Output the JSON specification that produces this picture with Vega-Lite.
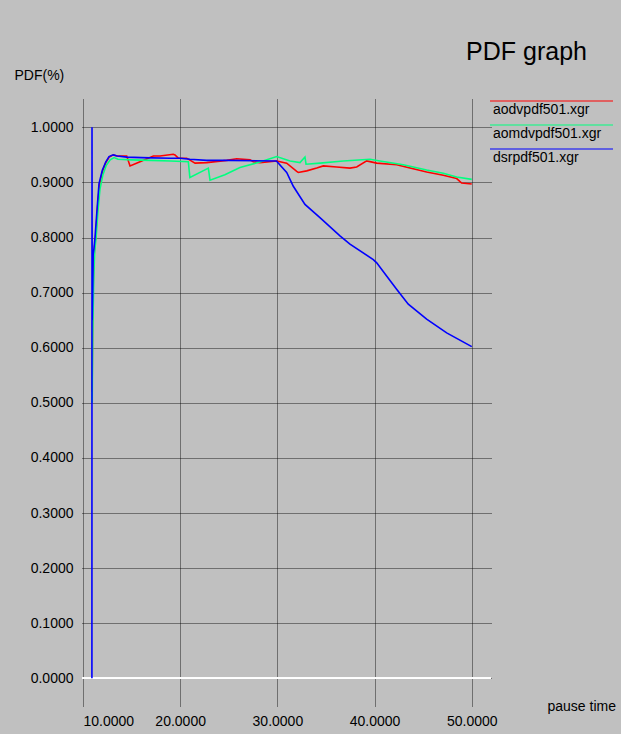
{
  "$schema": "https://vega.github.io/schema/vega-lite/v6.json",
  "width": 409,
  "height": 608,
  "autosize": {"type": "none"},
  "padding": {"left": 82, "top": 99, "right": 130, "bottom": 27},
  "background": "#c0c0c0",
  "title": {
    "text": "PDF graph",
    "anchor": "end",
    "frame": "group",
    "font": "Liberation Sans",
    "fontSize": 25,
    "fontWeight": "normal",
    "color": "#000000",
    "baseline": "alphabetic",
    "offset": 0,
    "dx": 96,
    "dy": 17
  },
  "config": {
    "view": {"stroke": null},
    "font": "Liberation Sans",
    "axis": {
      "labelFont": "Liberation Sans",
      "labelFontSize": 14,
      "labelColor": "#000000",
      "titleFont": "Liberation Sans",
      "titleFontSize": 14,
      "titleFontWeight": "normal",
      "titleColor": "#000000",
      "domain": false,
      "ticks": false,
      "grid": true,
      "gridColor": "#000000",
      "gridOpacity": 0.85,
      "gridDash": [1, 1],
      "gridWidth": 1
    },
    "legend": {
      "labelFont": "Liberation Sans",
      "labelFontSize": 14,
      "labelColor": "#000000"
    }
  },
  "data": {
    "values": [
      {"s": "aodvpdf501.xgr", "x": 10.94, "y": 0.52},
      {"s": "aodvpdf501.xgr", "x": 10.99, "y": 0.64},
      {"s": "aodvpdf501.xgr", "x": 11.08, "y": 0.74},
      {"s": "aodvpdf501.xgr", "x": 11.2, "y": 0.785},
      {"s": "aodvpdf501.xgr", "x": 11.3, "y": 0.8},
      {"s": "aodvpdf501.xgr", "x": 11.5, "y": 0.855},
      {"s": "aodvpdf501.xgr", "x": 11.7, "y": 0.895},
      {"s": "aodvpdf501.xgr", "x": 12.0, "y": 0.92},
      {"s": "aodvpdf501.xgr", "x": 12.35, "y": 0.936},
      {"s": "aodvpdf501.xgr", "x": 12.7, "y": 0.946},
      {"s": "aodvpdf501.xgr", "x": 13.12, "y": 0.95},
      {"s": "aodvpdf501.xgr", "x": 13.5, "y": 0.948},
      {"s": "aodvpdf501.xgr", "x": 14.5, "y": 0.948},
      {"s": "aodvpdf501.xgr", "x": 14.84, "y": 0.93},
      {"s": "aodvpdf501.xgr", "x": 15.87, "y": 0.9375},
      {"s": "aodvpdf501.xgr", "x": 17.24, "y": 0.948},
      {"s": "aodvpdf501.xgr", "x": 17.92, "y": 0.948},
      {"s": "aodvpdf501.xgr", "x": 19.29, "y": 0.951},
      {"s": "aodvpdf501.xgr", "x": 19.47, "y": 0.95},
      {"s": "aodvpdf501.xgr", "x": 19.81, "y": 0.944},
      {"s": "aodvpdf501.xgr", "x": 20.67, "y": 0.944},
      {"s": "aodvpdf501.xgr", "x": 21.53, "y": 0.935},
      {"s": "aodvpdf501.xgr", "x": 22.73, "y": 0.936},
      {"s": "aodvpdf501.xgr", "x": 24.79, "y": 0.94},
      {"s": "aodvpdf501.xgr", "x": 25.82, "y": 0.943},
      {"s": "aodvpdf501.xgr", "x": 27.19, "y": 0.941},
      {"s": "aodvpdf501.xgr", "x": 27.52, "y": 0.9375},
      {"s": "aodvpdf501.xgr", "x": 28.21, "y": 0.936},
      {"s": "aodvpdf501.xgr", "x": 29.93, "y": 0.939},
      {"s": "aodvpdf501.xgr", "x": 30.96, "y": 0.935},
      {"s": "aodvpdf501.xgr", "x": 31.99, "y": 0.92},
      {"s": "aodvpdf501.xgr", "x": 32.15, "y": 0.918},
      {"s": "aodvpdf501.xgr", "x": 33.02, "y": 0.921},
      {"s": "aodvpdf501.xgr", "x": 34.05, "y": 0.926},
      {"s": "aodvpdf501.xgr", "x": 34.73, "y": 0.93},
      {"s": "aodvpdf501.xgr", "x": 36.1, "y": 0.928},
      {"s": "aodvpdf501.xgr", "x": 37.47, "y": 0.926},
      {"s": "aodvpdf501.xgr", "x": 38.16, "y": 0.928},
      {"s": "aodvpdf501.xgr", "x": 39.19, "y": 0.939},
      {"s": "aodvpdf501.xgr", "x": 40.22, "y": 0.935},
      {"s": "aodvpdf501.xgr", "x": 42.28, "y": 0.932},
      {"s": "aodvpdf501.xgr", "x": 43.65, "y": 0.926},
      {"s": "aodvpdf501.xgr", "x": 45.36, "y": 0.919},
      {"s": "aodvpdf501.xgr", "x": 47.07, "y": 0.913},
      {"s": "aodvpdf501.xgr", "x": 48.45, "y": 0.907},
      {"s": "aodvpdf501.xgr", "x": 48.96, "y": 0.899},
      {"s": "aodvpdf501.xgr", "x": 50.0, "y": 0.897},

      {"s": "aomdvpdf501.xgr", "x": 10.95, "y": 0.5},
      {"s": "aomdvpdf501.xgr", "x": 11.0, "y": 0.62},
      {"s": "aomdvpdf501.xgr", "x": 11.1, "y": 0.72},
      {"s": "aomdvpdf501.xgr", "x": 11.2, "y": 0.775},
      {"s": "aomdvpdf501.xgr", "x": 11.35, "y": 0.8},
      {"s": "aomdvpdf501.xgr", "x": 11.55, "y": 0.85},
      {"s": "aomdvpdf501.xgr", "x": 11.75, "y": 0.888},
      {"s": "aomdvpdf501.xgr", "x": 12.05, "y": 0.914},
      {"s": "aomdvpdf501.xgr", "x": 12.4, "y": 0.931},
      {"s": "aomdvpdf501.xgr", "x": 12.8, "y": 0.941},
      {"s": "aomdvpdf501.xgr", "x": 13.2, "y": 0.945},
      {"s": "aomdvpdf501.xgr", "x": 13.6, "y": 0.942},
      {"s": "aomdvpdf501.xgr", "x": 15.0, "y": 0.941},
      {"s": "aomdvpdf501.xgr", "x": 17.0, "y": 0.94},
      {"s": "aomdvpdf501.xgr", "x": 19.0, "y": 0.939},
      {"s": "aomdvpdf501.xgr", "x": 20.84, "y": 0.9375},
      {"s": "aomdvpdf501.xgr", "x": 21.0, "y": 0.909},
      {"s": "aomdvpdf501.xgr", "x": 22.9, "y": 0.926},
      {"s": "aomdvpdf501.xgr", "x": 23.07, "y": 0.904},
      {"s": "aomdvpdf501.xgr", "x": 24.6, "y": 0.914},
      {"s": "aomdvpdf501.xgr", "x": 26.15, "y": 0.927},
      {"s": "aomdvpdf501.xgr", "x": 28.2, "y": 0.937},
      {"s": "aomdvpdf501.xgr", "x": 29.93, "y": 0.947},
      {"s": "aomdvpdf501.xgr", "x": 31.3, "y": 0.939},
      {"s": "aomdvpdf501.xgr", "x": 32.33, "y": 0.936},
      {"s": "aomdvpdf501.xgr", "x": 32.84, "y": 0.946},
      {"s": "aomdvpdf501.xgr", "x": 32.95, "y": 0.933},
      {"s": "aomdvpdf501.xgr", "x": 34.39, "y": 0.935},
      {"s": "aomdvpdf501.xgr", "x": 36.78, "y": 0.939},
      {"s": "aomdvpdf501.xgr", "x": 39.53, "y": 0.942},
      {"s": "aomdvpdf501.xgr", "x": 40.56, "y": 0.939},
      {"s": "aomdvpdf501.xgr", "x": 42.96, "y": 0.932},
      {"s": "aomdvpdf501.xgr", "x": 45.36, "y": 0.9225},
      {"s": "aomdvpdf501.xgr", "x": 47.07, "y": 0.9165},
      {"s": "aomdvpdf501.xgr", "x": 48.45, "y": 0.91},
      {"s": "aomdvpdf501.xgr", "x": 50.0, "y": 0.9056},

      {"s": "dsrpdf501.xgr", "x": 10.92, "y": 0.0},
      {"s": "dsrpdf501.xgr", "x": 10.93, "y": 1.0},
      {"s": "dsrpdf501.xgr", "x": 10.95, "y": 0.65},
      {"s": "dsrpdf501.xgr", "x": 11.0, "y": 0.7},
      {"s": "dsrpdf501.xgr", "x": 11.05, "y": 0.77},
      {"s": "dsrpdf501.xgr", "x": 11.13, "y": 0.78},
      {"s": "dsrpdf501.xgr", "x": 11.24, "y": 0.8},
      {"s": "dsrpdf501.xgr", "x": 11.47, "y": 0.856},
      {"s": "dsrpdf501.xgr", "x": 11.65, "y": 0.898},
      {"s": "dsrpdf501.xgr", "x": 11.99, "y": 0.922},
      {"s": "dsrpdf501.xgr", "x": 12.34, "y": 0.937},
      {"s": "dsrpdf501.xgr", "x": 12.68, "y": 0.947},
      {"s": "dsrpdf501.xgr", "x": 13.12, "y": 0.95},
      {"s": "dsrpdf501.xgr", "x": 13.53, "y": 0.948},
      {"s": "dsrpdf501.xgr", "x": 14.5, "y": 0.946},
      {"s": "dsrpdf501.xgr", "x": 16.0, "y": 0.945},
      {"s": "dsrpdf501.xgr", "x": 19.0, "y": 0.944},
      {"s": "dsrpdf501.xgr", "x": 20.0, "y": 0.944},
      {"s": "dsrpdf501.xgr", "x": 21.0, "y": 0.942},
      {"s": "dsrpdf501.xgr", "x": 22.7, "y": 0.94},
      {"s": "dsrpdf501.xgr", "x": 25.0, "y": 0.94},
      {"s": "dsrpdf501.xgr", "x": 29.9, "y": 0.939},
      {"s": "dsrpdf501.xgr", "x": 30.96, "y": 0.918},
      {"s": "dsrpdf501.xgr", "x": 31.64, "y": 0.893},
      {"s": "dsrpdf501.xgr", "x": 32.84, "y": 0.86},
      {"s": "dsrpdf501.xgr", "x": 34.38, "y": 0.836},
      {"s": "dsrpdf501.xgr", "x": 36.44, "y": 0.803},
      {"s": "dsrpdf501.xgr", "x": 37.47, "y": 0.788},
      {"s": "dsrpdf501.xgr", "x": 39.87, "y": 0.76},
      {"s": "dsrpdf501.xgr", "x": 40.22, "y": 0.754},
      {"s": "dsrpdf501.xgr", "x": 41.24, "y": 0.73},
      {"s": "dsrpdf501.xgr", "x": 42.27, "y": 0.706},
      {"s": "dsrpdf501.xgr", "x": 43.47, "y": 0.679},
      {"s": "dsrpdf501.xgr", "x": 45.36, "y": 0.652},
      {"s": "dsrpdf501.xgr", "x": 47.42, "y": 0.627},
      {"s": "dsrpdf501.xgr", "x": 50.0, "y": 0.602}
    ]
  },
  "layer": [
    {
      "mark": {"type": "rule", "color": "#ffffff", "strokeWidth": 1.2},
      "encoding": {"y": {"datum": 0, "type": "quantitative"}}
    },
    {
      "mark": {"type": "line", "strokeWidth": 1.6, "interpolate": "linear"},
      "encoding": {
        "x": {
          "field": "x",
          "type": "quantitative",
          "scale": {"domain": [9.9, 51.98], "nice": false, "zero": false},
          "axis": {
            "values": [10, 20, 30, 40, 50],
            "format": ".4f",
            "labelPadding": 14,
            "labelBaseline": "middle",
            "title": "pause time",
            "titleX": 465,
            "titleY": -1,
            "titleAlign": "left",
            "titleBaseline": "middle",
            "titleAnchor": null
          }
        },
        "y": {
          "field": "y",
          "type": "quantitative",
          "scale": {"domain": [-0.052, 1.0514], "nice": false, "zero": false},
          "axis": {
            "values": [0, 0.1, 0.2, 0.3, 0.4, 0.5, 0.6, 0.7, 0.8, 0.9, 1.0],
            "format": ".4f",
            "labelPadding": 9,
            "title": "PDF(%)",
            "titleAngle": 0,
            "titleX": -68,
            "titleY": -24,
            "titleAlign": "left",
            "titleBaseline": "middle",
            "titleAnchor": null
          }
        },
        "color": {
          "field": "s",
          "type": "nominal",
          "scale": {
            "domain": ["aodvpdf501.xgr", "aomdvpdf501.xgr", "dsrpdf501.xgr"],
            "range": ["#ff0000", "#00ff7f", "#0000ff"]
          },
          "legend": {
            "title": null,
            "orient": "none",
            "legendX": 403,
            "legendY": 4,
            "padding": 0,
            "symbolType": "M-1,-4.5H60.5",
            "symbolSize": 16,
            "symbolStrokeWidth": 1.2,
            "labelOffset": -6,
            "rowPadding": 5,
            "encode": {
              "symbols": {
                "update": {
                  "stroke": {"scale": "color", "field": "value"},
                  "strokeOpacity": {"value": 1},
                  "fill": {"value": "transparent"}
                }
              }
            }
          }
        }
      }
    }
  ]
}
